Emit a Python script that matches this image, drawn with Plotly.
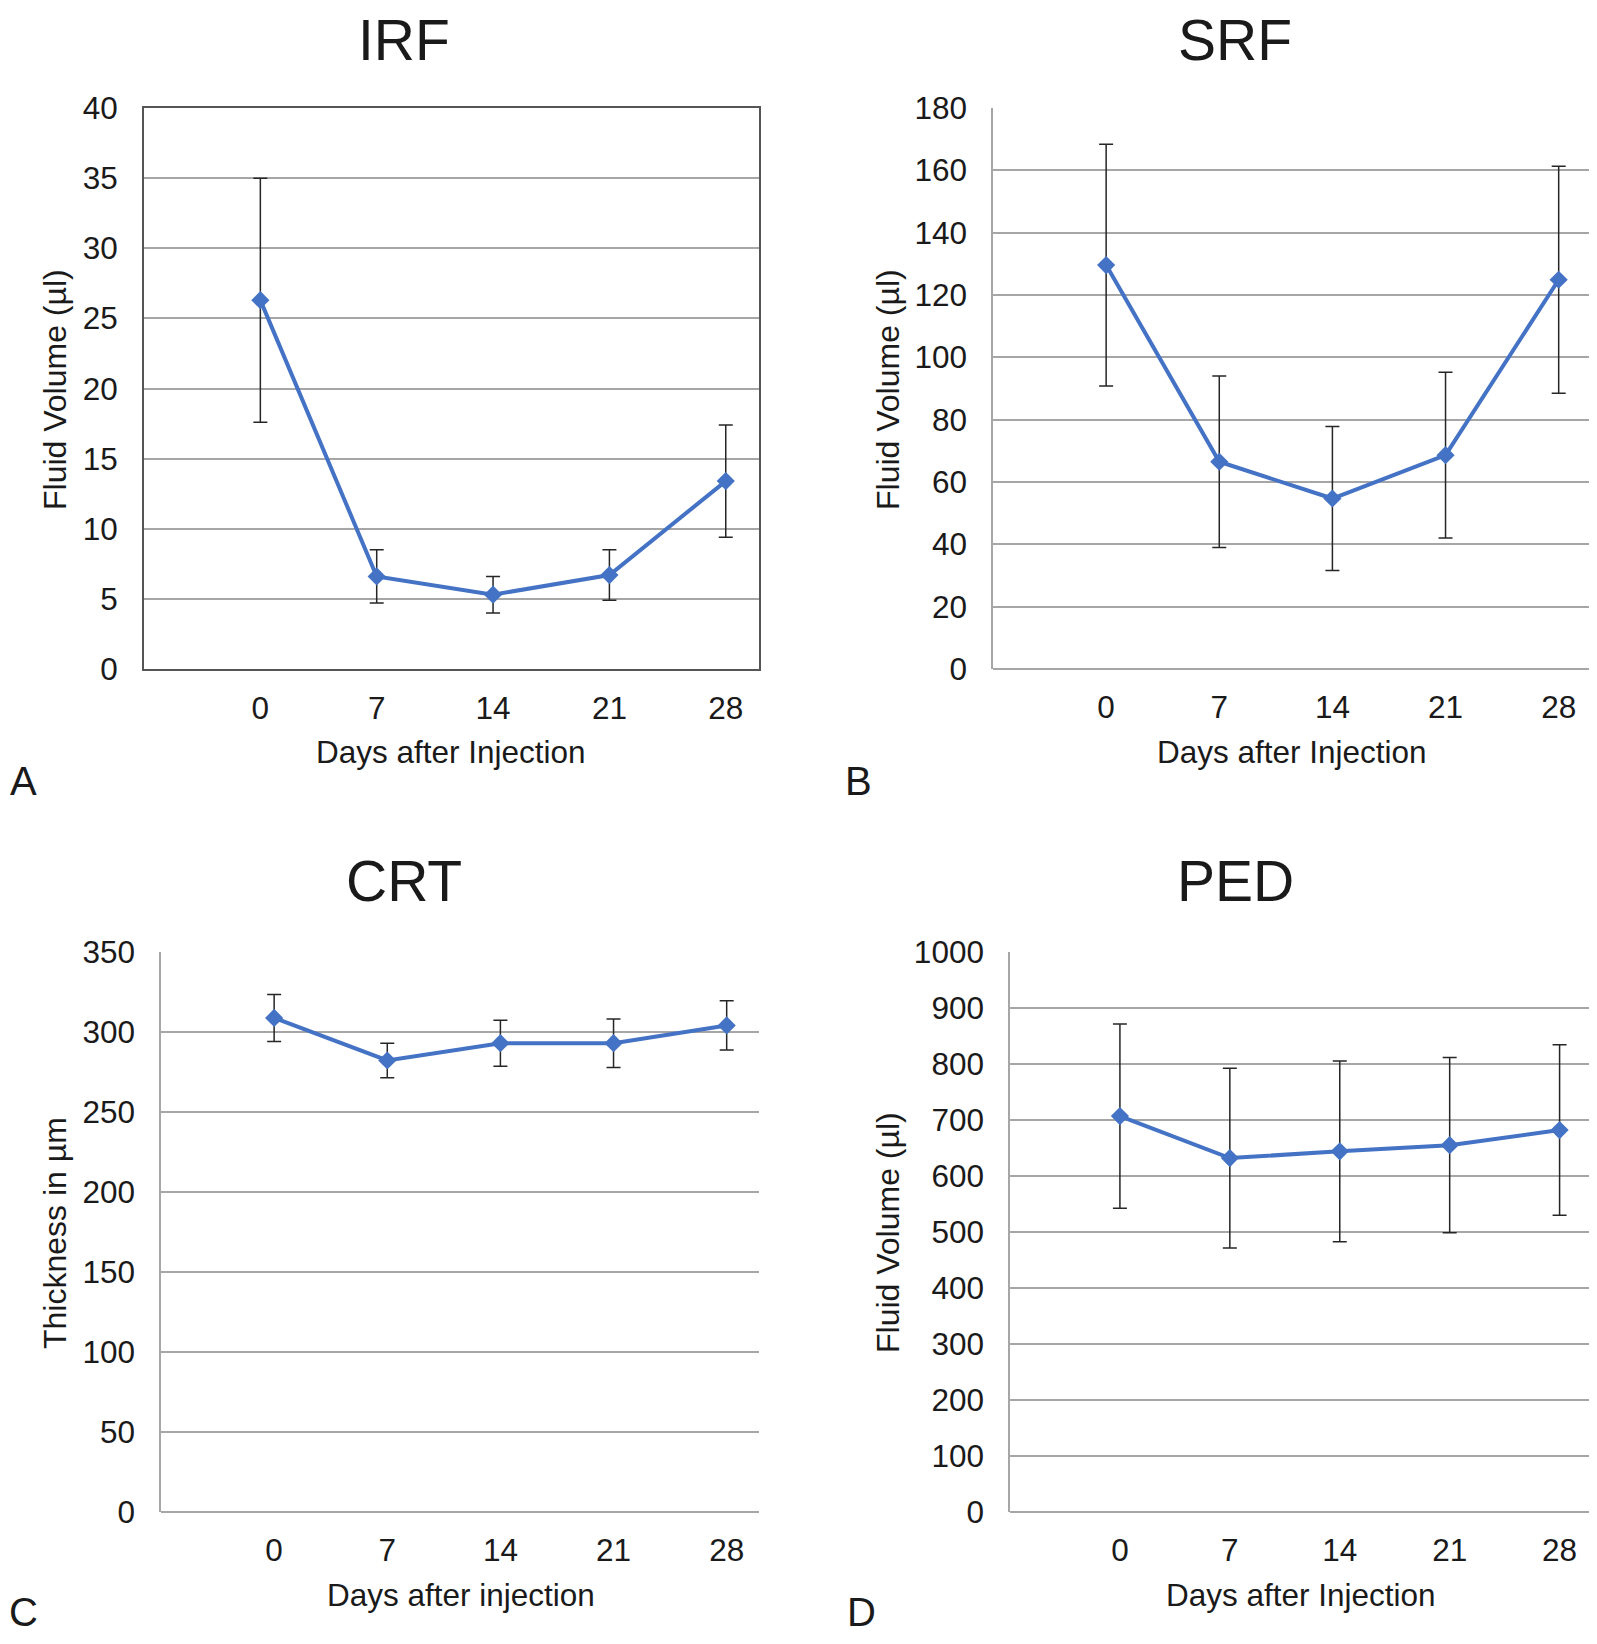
import plotly.graph_objects as go

W, H = 1597, 1644
OFF = 8  # page body margin
FW, FH = W - OFF, H - OFF

days = [0, 7, 14, 21, 28]

# means and error (+/-)
irf_mean = [26.3, 6.6, 5.3, 6.7, 13.4]
irf_err = [8.7, 1.9, 1.3, 1.8, 4.0]

srf_mean = [129.6, 66.5, 54.7, 68.6, 124.9]
srf_err = [38.8, 27.5, 23.1, 26.6, 36.4]

crt_mean = [308.8, 282.2, 293.0, 293.0, 304.1]
crt_err = [14.7, 10.8, 14.4, 15.2, 15.4]

ped_mean = [707, 632, 644, 655, 682]
ped_err = [164.5, 160.5, 161.4, 156.5, 152.3]

titles = ["IRF", "SRF", "CRT", "PED"]
letters = ["A", "B", "C", "D"]
y_titles = ["Fluid Volume (µl)", "Fluid Volume (µl)", "Thickness in µm", "Fluid Volume (µl)"]
x_titles = ["Days after Injection", "Days after Injection", "Days after injection", "Days after Injection"]
y_ranges = [(0, 40, 5), (0, 180, 20), (0, 350, 50), (0, 1000, 100)]

BLUE = "#4472C4"
GRID = "#a6a6a6"
FONT = "Liberation Sans, Arial, sans-serif"
TXT = "#1a1a1a"

# page positions in pixels: plot areas (left, right, top, bottom) and text centres
boxes = [
    (144, 759, 108, 669),
    (993, 1591, 108, 669),
    (161, 759, 952, 1512),
    (1010, 1591, 952, 1512),
]
title_pos = [(404, 40), (1235, 40), (404, 881), (1235, 881)]
ytitle_pos = [(55, 390), (888, 390), (55, 1233), (888, 1233)]
xtitle_pos = [(451, 752), (1292, 752), (461, 1595), (1301, 1595)]
letter_pos = [(23, 781), (858, 781), (23, 1612), (862, 1612)]


def fx(x):
    return (x - OFF) / FW


def fy(y):
    return 1 - (y - OFF) / FH


series = [(irf_mean, irf_err), (srf_mean, srf_err), (crt_mean, crt_err), (ped_mean, ped_err)]

fig = go.Figure()
layout = {}
annotations = []

for i, (mean, err) in enumerate(series):
    n = "" if i == 0 else str(i + 1)
    fig.add_trace(go.Scatter(
        x=days, y=mean,
        xaxis="x" + n, yaxis="y" + n,
        mode="lines+markers",
        line=dict(color=BLUE, width=4),
        marker=dict(symbol="diamond", size=14, color=BLUE),
        error_y=dict(type="data", array=err, visible=True,
                     color="#262626", thickness=1.5, width=7),
        showlegend=False,
    ))

    l, r, t, b = boxes[i]
    y0, y1, dt = y_ranges[i]
    boxed = i == 0
    layout["xaxis" + n] = dict(
        domain=[fx(l), fx(r)], anchor="y" + n,
        range=[-7, 30], tickvals=days, ticktext=[str(d) for d in days],
        showgrid=False, zeroline=False,
        showline=boxed, linecolor="#555555", linewidth=2, mirror=boxed,
        ticks="", ticklabelstandoff=10 if boxed else 16,
        tickfont=dict(family=FONT, size=31.5, color=TXT),
    )
    layout["yaxis" + n] = dict(
        domain=[fy(b), fy(t)], anchor="x" + n,
        range=[y0, y1], dtick=dt, tick0=0,
        showgrid=True, gridcolor=GRID, gridwidth=1.5,
        zeroline=True, zerolinecolor=GRID, zerolinewidth=1.5,
        showline=True, linecolor="#555555" if boxed else GRID,
        linewidth=2 if boxed else 1.5, mirror=boxed,
        ticks="", ticklabelstandoff=18,
        tickfont=dict(family=FONT, size=31.5, color=TXT),
    )

    tx, ty = title_pos[i]
    annotations.append(dict(text=titles[i], x=fx(tx), y=fy(ty),
                            font=dict(family=FONT, size=57, color=TXT)))
    yx, yy = ytitle_pos[i]
    annotations.append(dict(text=y_titles[i], x=fx(yx), y=fy(yy), textangle=-90,
                            font=dict(family=FONT, size=32, color=TXT)))
    xx, xy = xtitle_pos[i]
    annotations.append(dict(text=x_titles[i], x=fx(xx), y=fy(xy),
                            font=dict(family=FONT, size=31.5, color=TXT)))
    lx, ly = letter_pos[i]
    annotations.append(dict(text=letters[i], x=fx(lx), y=fy(ly),
                            font=dict(family=FONT, size=40, color=TXT)))

for a in annotations:
    a.update(xref="paper", yref="paper", showarrow=False,
             xanchor="center", yanchor="middle")

fig.update_layout(
    width=FW, height=FH,
    margin=dict(l=0, r=0, t=0, b=0, autoexpand=False),
    paper_bgcolor="white", plot_bgcolor="white",
    annotations=annotations,
    **layout,
)

fig.write_html("out.html")
